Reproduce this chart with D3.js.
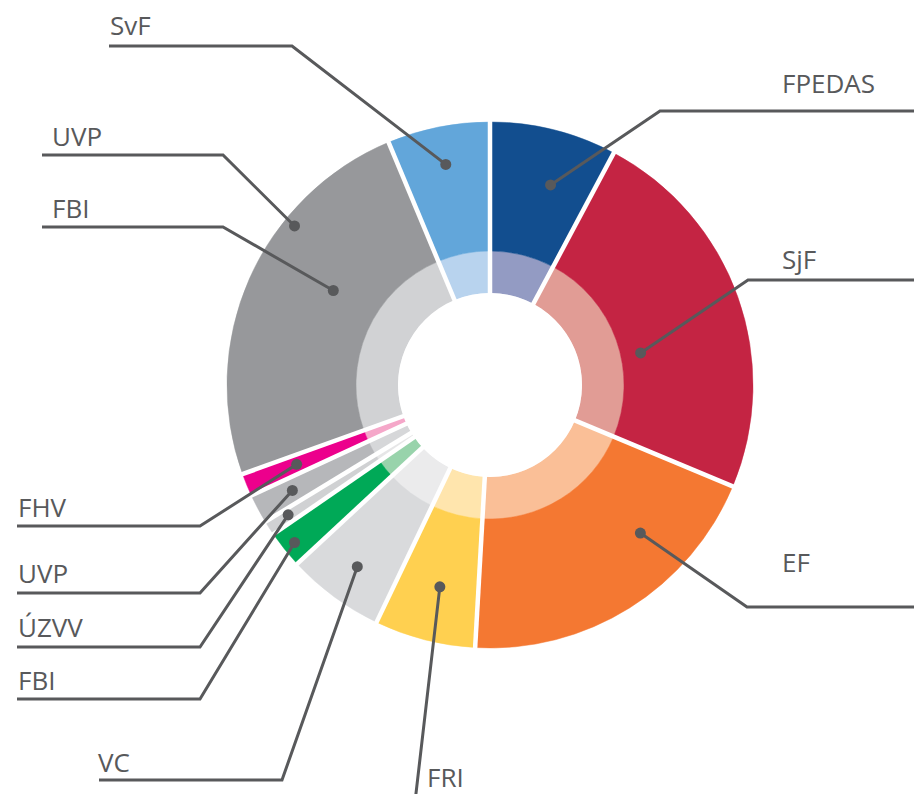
<!DOCTYPE html>
<html>
  <head>
    <meta charset="utf-8">
    <style>
      body { margin: 0; background: #fff; }
      svg { display: block; }
      .label { font-family: "Open Sans", sans-serif; font-size: 26px; fill: #58595b; }
    </style>
    <script src="https://d3js.org/d3.v7.min.js"></script>
  </head>
  <body>
    <svg></svg>
    <script>
    // slices clockwise from 12 o'clock (share of the whole, %)
    var names  = ["FPEDAS", "SjF", "EF", "FRI", "VC", "FBI", "ÚZVV", "UVP", "FHV", "FBI", "UVP", "SvF"];
    var values = [7.8, 23.5, 19.6, 6.2, 6.0, 2.3, 0.9, 1.8, 1.4, 15.2, 9.0, 6.3];
    // slices with the same group share one colour and have no gap between them
    var groups = [0, 1, 2, 3, 4, 5, 6, 7, 8, 9, 9, 10];
    var darkColors  = ["#124e8f", "#c42443", "#f47832", "#ffd050", "#d9dadc", "#00a957",
                       "#d0d1d3", "#b6b7ba", "#ec008c", "#97989b", "#62a6da"];
    var lightColors = ["#939bc3", "#e19c95", "#fabf97", "#ffe5ad", "#ebebec", "#98d3ab",
                       "#e6e6e7", "#d6d7d9", "#f5a7c9", "#d1d2d4", "#b8d3ee"];

    var width = 914;
    var height = 794;
    var cx = 490, cy = 385;
    var rHole = 92, rMid = 134, rOuter = 263;
    var ink = "#58595b";

    var svg = d3.select("svg")
        .attr("width", width)
        .attr("height", height);

    var pie = d3.pie().sort(null).value(function(d) { return d; });
    var arcs = pie(values);

    // one arc per colour group
    var groupArcs = [];
    arcs.forEach(function(a, i) {
      var g = groups[i];
      if (!groupArcs[g]) groupArcs[g] = { group: g, startAngle: a.startAngle, endAngle: a.endAngle };
      else groupArcs[g].endAngle = a.endAngle;
    });

    var inner = d3.arc().innerRadius(rHole).outerRadius(rMid);
    var outer = d3.arc().innerRadius(rMid).outerRadius(rOuter);

    var chart = svg.append("g")
        .attr("transform", "translate(" + cx + "," + cy + ")");

    chart.selectAll("path.inner")
        .data(groupArcs)
      .enter().append("path")
        .attr("class", "inner")
        .attr("d", inner)
        .attr("fill", function(d) { return lightColors[d.group]; })
        .attr("stroke", function(d) { return lightColors[d.group]; })
        .attr("stroke-width", 0.5);

    chart.selectAll("path.outer")
        .data(groupArcs)
      .enter().append("path")
        .attr("class", "outer")
        .attr("d", outer)
        .attr("fill", function(d) { return darkColors[d.group]; })
        .attr("stroke", function(d) { return darkColors[d.group]; })
        .attr("stroke-width", 0.5);

    // white gaps between the groups
    chart.selectAll("line.cut")
        .data(groupArcs)
      .enter().append("line")
        .attr("class", "cut")
        .attr("x1", 0).attr("y1", 0)
        .attr("x2", function(d) { return (rOuter + 4) * Math.sin(d.startAngle); })
        .attr("y2", function(d) { return -(rOuter + 4) * Math.cos(d.startAngle); })
        .attr("stroke", "#fff")
        .attr("stroke-width", 4.5);

    chart.append("circle")
        .attr("r", rHole)
        .attr("fill", "#fff");

    // callouts: slice, where the dot sits in it, elbow of the leader, text
    var callouts = [
      { slice: 11, t: 0.50, r: 225, elbow: [292, 46],  end: 109, tx: 110, ty: 35 },
      { slice: 10, t: 0.13, r: 252, elbow: [223, 155], end: 42,  tx: 52,  ty: 146 },
      { slice: 9,  t: 0.93, r: 183, elbow: [223, 227], end: 42,  tx: 52,  ty: 218 },
      { slice: 0,  t: 0.60, r: 209, elbow: [660, 111], end: 914, tx: 782, ty: 93 },
      { slice: 1,  t: 0.59, r: 154, elbow: [748, 280], end: 914, tx: 782, ty: 269 },
      { slice: 2,  t: 0.31, r: 211, elbow: [747, 607], end: 914, tx: 782, ty: 572 },
      { slice: 8,  t: 0.50, r: 209, elbow: [200, 526], end: 17,  tx: 18,  ty: 517 },
      { slice: 7,  t: 0.50, r: 224, elbow: [200, 593], end: 17,  tx: 18,  ty: 583 },
      { slice: 6,  t: 0.56, r: 240, elbow: [200, 647], end: 17,  tx: 18,  ty: 637 },
      { slice: 5,  t: 0.48, r: 251, elbow: [200, 699], end: 17,  tx: 18,  ty: 690 },
      { slice: 4,  t: 0.49, r: 225, elbow: [282, 780], end: 99,  tx: 98,  ty: 772 },
      { slice: 3,  t: 0.48, r: 208, elbow: [415, 802], end: 600, tx: 427, ty: 787 }
    ];

    function dotPos(c) {
      var a = arcs[c.slice];
      var ang = a.startAngle + c.t * (a.endAngle - a.startAngle);
      return [cx + c.r * Math.sin(ang), cy - c.r * Math.cos(ang)];
    }

    var notes = svg.append("g").attr("class", "callouts");

    notes.selectAll("polyline")
        .data(callouts)
      .enter().append("polyline")
        .attr("points", function(c) {
            var p = dotPos(c);
            return [p, c.elbow, [c.end, c.elbow[1]]].map(function(q) { return q.join(","); }).join(" ");
        })
        .attr("fill", "none")
        .attr("stroke", ink)
        .attr("stroke-width", 3);

    notes.selectAll("circle")
        .data(callouts)
      .enter().append("circle")
        .attr("cx", function(c) { return dotPos(c)[0]; })
        .attr("cy", function(c) { return dotPos(c)[1]; })
        .attr("r", 5.5)
        .attr("fill", ink);

    notes.selectAll("text")
        .data(callouts)
      .enter().append("text")
        .attr("class", "label")
        .attr("x", function(c) { return c.tx; })
        .attr("y", function(c) { return c.ty; })
        .text(function(c) { return names[c.slice]; });
    </script>
  </body>
</html>
